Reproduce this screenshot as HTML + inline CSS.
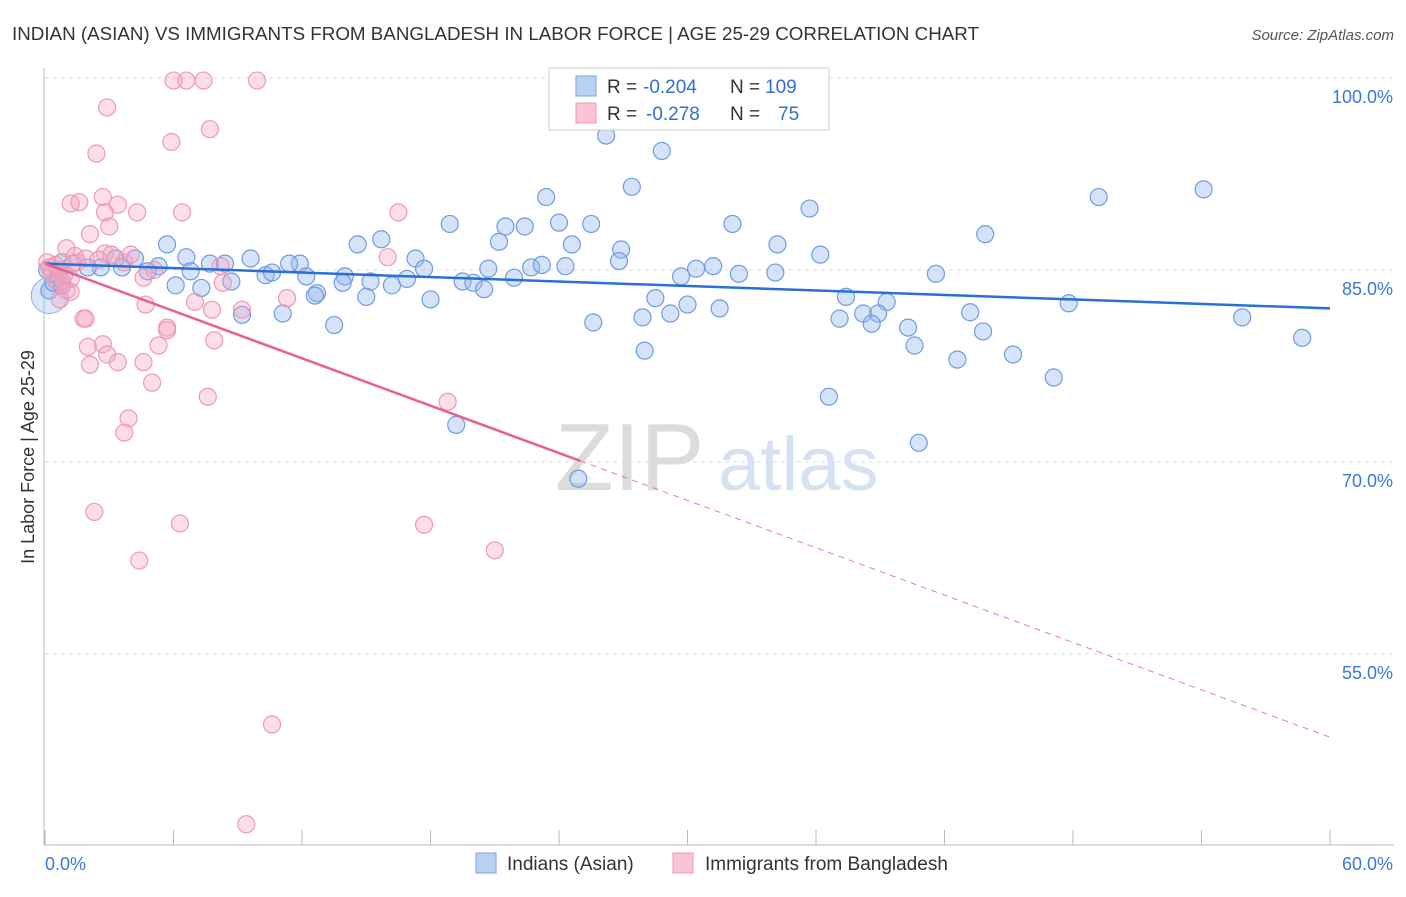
<!DOCTYPE html>
<html><head><meta charset="utf-8">
<style>
body{margin:0;background:#fff;font-family:"Liberation Sans",sans-serif;}
svg text{font-family:"Liberation Sans",sans-serif;}
</style></head>
<body>
<svg id="chart" width="1406" height="892">
<text x="12" y="40" font-size="18" fill="#333" textLength="967" lengthAdjust="spacingAndGlyphs">INDIAN (ASIAN) VS IMMIGRANTS FROM BANGLADESH IN LABOR FORCE | AGE 25-29 CORRELATION CHART</text>
<text x="1394" y="40" font-size="15" fill="#555" text-anchor="end" font-style="italic">Source: ZipAtlas.com</text>
<text x="555" y="490" font-size="96" fill="#dcdcdc" font-family="Liberation Serif">ZIP</text>
<text x="718" y="490" font-size="76" fill="#d5e2f2">atlas</text>
<g id="grid"></g>
<g id="axes"></g>
<g id="pts"></g>
<g id="lines"></g>
<text x="34" y="457" font-size="18" fill="#333" text-anchor="middle" transform="rotate(-90 34 457)">In Labor Force | Age 25-29</text>
<g>
<rect x="549" y="68" width="280" height="62" fill="#fff" stroke="#ccc"/>
<rect x="576" y="76" width="20" height="20" fill="#b9d0f3" stroke="#7aa3e0"/>
<rect x="576" y="103" width="20" height="20" fill="#f9c4d5" stroke="#eb9ab6"/>
<text x="607" y="93" font-size="19" fill="#333">R =</text>
<text x="643" y="93" font-size="19" fill="#2f6fd0">-0.204</text>
<text x="730" y="93" font-size="19" fill="#333">N =</text>
<text x="765" y="93" font-size="19" fill="#2f6fd0">109</text>
<text x="607" y="120" font-size="19" fill="#333">R =</text>
<text x="646" y="120" font-size="19" fill="#2f6fd0">-0.278</text>
<text x="730" y="120" font-size="19" fill="#333">N =</text>
<text x="778" y="120" font-size="19" fill="#2f6fd0">75</text>
</g>
<g>
<rect x="476" y="853" width="20" height="20" fill="#b9d0f3" stroke="#7aa3e0"/>
<text x="507" y="870" font-size="19" fill="#333">Indians (Asian)</text>
<rect x="673" y="853" width="20" height="20" fill="#f9c4d5" stroke="#eb9ab6"/>
<text x="705" y="870" font-size="19" fill="#333">Immigrants from Bangladesh</text>
</g>
</svg>
<script>
const yTicks=[100,85,70,55];
const yTickLabels=["100.0%","85.0%","70.0%","55.0%"];
const xTicks=[0,6,12,18,24,30,36,42,48,54,60];
const blueX=[26.2,28.8,27.4,23.4,49.2,54.1,35.7,24.0,25.5,18.9,21.5,22.4,32.1,43.9,15.7,14.6,21.2,24.6,34.2,26.9,5.7,36.2,17.3,9.6,11.9,11.4,7.7,8.4,4.2,3.3,5.3,6.6,0.8,2.6,1.3,2.0,3.6,4.8,6.8,10.3,10.6,12.2,14.0,13.9,15.2,16.2,16.9,17.7,19.5,20.7,20.0,20.5,21.9,22.7,23.2,24.3,26.8,29.7,30.4,31.2,32.4,34.1,41.6,6.1,7.3,8.7,12.7,12.6,15.0,18.0,28.5,30.0,31.5,37.4,39.3,47.8,55.9,58.7,38.2,38.9,37.1,38.6,40.3,43.2,43.8,40.6,45.2,42.6,47.1,36.6,25.6,27.9,29.2,28.0,19.2,40.8,24.9,9.2,11.1,13.5,0.2,0.6,0.4,0.8,0.1];
const blueY=[95.5,94.3,91.5,90.7,90.7,91.3,89.8,88.7,88.6,88.6,88.4,88.4,88.6,87.8,87.4,87.0,87.2,87.0,87.0,86.6,87.0,86.2,85.9,85.9,85.5,85.5,85.5,85.5,85.9,85.9,85.3,86.0,85.6,85.2,85.5,85.2,85.2,84.9,84.9,84.6,84.8,84.5,84.5,84.0,84.1,83.8,84.3,85.1,84.1,85.1,84.0,83.5,84.4,85.2,85.4,85.3,85.7,84.5,85.1,85.3,84.7,84.8,84.7,83.8,83.6,84.1,83.2,83.0,82.9,82.7,82.8,82.3,82.0,82.9,82.5,82.4,81.3,79.7,81.6,81.6,81.2,80.8,80.5,81.7,80.2,79.1,78.4,78.0,76.6,75.1,80.9,81.3,81.6,78.7,72.9,71.5,68.7,81.5,81.6,80.7,83.4,84.6,84.0,83.8,85.0];
const pinkX=[6.0,6.6,7.4,9.9,2.9,7.7,5.9,2.4,1.2,1.6,2.7,3.4,2.8,4.3,6.4,16.5,2.1,3.0,1.0,1.4,1.9,2.8,3.1,0.1,0.5,0.7,0.9,1.2,1.5,2.5,3.7,4.0,4.6,5.1,8.2,8.3,16.0,0.7,1.2,4.7,7.0,7.8,11.3,1.8,1.9,5.7,5.7,5.3,7.9,2.0,2.7,2.9,2.1,3.4,4.6,5.0,7.6,18.8,3.9,3.7,9.2,2.3,6.3,17.7,21.0,4.4,10.6,9.4,0.2,0.5,0.8,0.3,1.0];
const pinkY=[99.8,99.8,99.8,99.8,97.7,96.0,95.0,94.1,90.2,90.3,90.7,90.1,89.5,89.5,89.5,89.5,87.8,88.4,86.7,86.1,85.9,86.3,86.2,85.6,85.4,85.0,84.6,84.3,85.6,85.8,85.6,86.2,84.4,85.0,85.3,84.0,86.0,82.7,83.3,82.3,82.5,81.9,82.8,81.2,81.2,80.5,80.3,79.1,79.5,79.0,79.2,78.4,77.6,77.8,77.8,76.2,75.1,74.7,73.4,72.3,81.9,66.1,65.2,65.1,63.1,62.3,49.5,41.7,85.2,84.2,84.1,84.8,83.4];
const blueTrend=[85.5,82.0];
const pinkTrend=[85.5,48.5];
const pinkSolidEnd=25;

const NS="http://www.w3.org/2000/svg";
const X=v=>45+v*(1285/60);
const Y=v=>78+(100-v)*12.8;
function mk(tag,attrs,parent){const e=document.createElementNS(NS,tag);for(const k in attrs)e.setAttribute(k,attrs[k]);document.getElementById(parent).appendChild(e);return e;}

yTicks.forEach((t,i)=>{
  const l=mk('line',{x1:45,x2:1394,y1:Y(t),y2:Y(t),stroke:'#ddd','stroke-dasharray':'4,4'},'grid');
  
  
  const tx=mk('text',{x:1393,y:Y(t)+25,'font-size':18,fill:'#3a78d8','text-anchor':'end'},'grid');
  tx.textContent=yTickLabels[i];
  
  
});
const ax=mk('line',{x1:44,x2:44,y1:68,y2:845,stroke:'#bbb'},'axes');


const bx=mk('line',{x1:44,x2:1394,y1:845,y2:845,stroke:'#bbb'},'axes');


xTicks.forEach(t=>{
  const l=mk('line',{x1:X(t),x2:X(t),y1:830,y2:845,stroke:'#bbb'},'axes');
  
  
});
const x0=mk('text',{x:45,y:870,'font-size':18,fill:'#3a78d8'},'axes');x0.textContent='0.0%';


const x1=mk('text',{x:1393,y:870,'font-size':18,fill:'#3a78d8','text-anchor':'end'},'axes');x1.textContent='60.0%';



const big=mk('circle',{cx:X(0.2),cy:Y(83.0),r:18,fill:'rgba(150,185,240,0.35)',stroke:'#8fb0e6'},'pts');


blueX.forEach((v,i)=>{
  const c=mk('circle',{cx:X(v),cy:Y(blueY[i]),r:8.5,fill:'rgba(150,185,240,0.4)',stroke:'#6f9ce0','stroke-width':1.2},'pts');
  
  
});
pinkX.forEach((v,i)=>{
  const c=mk('circle',{cx:X(v),cy:Y(pinkY[i]),r:8.5,fill:'rgba(245,160,190,0.35)',stroke:'#ec9ab7','stroke-width':1.2},'pts');
  
  
});
const bl=mk('line',{x1:X(0),y1:Y(blueTrend[0]),x2:X(60),y2:Y(blueTrend[1]),stroke:'#2a6fd6','stroke-width':2.5},'lines');


const pAt=x=>pinkTrend[0]+(pinkTrend[1]-pinkTrend[0])*x/60;
const pl=mk('line',{x1:X(0),y1:Y(pinkTrend[0]),x2:X(pinkSolidEnd),y2:Y(pAt(pinkSolidEnd)),stroke:'#e8608d','stroke-width':2.5},'lines');


const pd=mk('line',{x1:X(pinkSolidEnd),y1:Y(pAt(pinkSolidEnd)),x2:X(60),y2:Y(pinkTrend[1]),stroke:'#e8809f','stroke-width':1,'stroke-dasharray':'6,5'},'lines');


</script>
</body></html>
